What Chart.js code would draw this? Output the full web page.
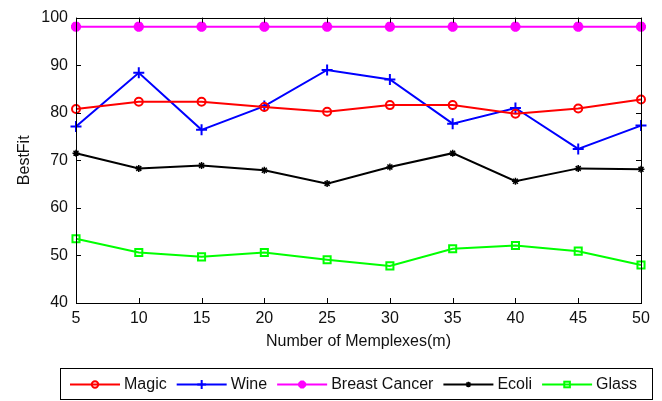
<!DOCTYPE html>
<html>
<head>
<meta charset="utf-8">
<script src="https://cdn.jsdelivr.net/npm/chart.js@4/dist/chart.umd.min.js"></script>
<style>
  html, body { margin: 0; padding: 0; background: #fff; }
  #wrap { width: 662px; height: 401px; }
</style>
</head>
<body>
<div id="wrap"><canvas id="line_chart" width="662" height="401"></canvas></div>
<script>
// number of memplexes on the x axis
const memplexes = ['5', '10', '15', '20', '25', '30', '35', '40', '45', '50'];

// BestFit values
const magic        = [80.8, 82.3, 82.3, 81.2, 80.2, 81.6, 81.6, 79.8, 80.9, 82.8];
const wine         = [77.1, 88.4, 76.4, 81.4, 89.0, 87.0, 77.7, 81.0, 72.4, 77.3];
const breastCancer = [98.1, 98.1, 98.1, 98.1, 98.1, 98.1, 98.1, 98.1, 98.1, 98.1];
const ecoli        = [71.5, 68.3, 68.9, 67.9, 65.1, 68.6, 71.5, 65.6, 68.3, 68.1];
const glass        = [53.5, 50.6, 49.7, 50.6, 49.1, 47.8, 51.4, 52.1, 50.9, 48.0];

const yTicks = [40, 50, 60, 70, 80, 90, 100];

const FONT = 'Liberation Sans, Arial, sans-serif';

function series(label, data, color, style, radius, bw) {
    return {
        label: label,
        data: data,
        borderColor: color,
        backgroundColor: color,
        borderWidth: 2,
        pointStyle: style,
        pointRadius: radius,
        pointBorderWidth: bw,
        pointBackgroundColor: (style === 'circle' || style === 'rect') ? 'rgba(0,0,0,0)' : color,
        pointBorderColor: color,
        tension: 0,
    };
}

// box round the plot area with inward tick marks, MATLAB style
const boxPlugin = {
    id: 'box',
    afterDatasetsDraw(chart) {
        const ctx = chart.ctx;
        const a = chart.chartArea;
        const xs = chart.scales.x, ys = chart.scales.y;
        ctx.save();
        ctx.strokeStyle = '#000';
        ctx.lineWidth = 1;
        ctx.strokeRect(Math.round(a.left) + 0.5, Math.round(a.top) + 0.5,
            Math.round(a.right - a.left), Math.round(a.bottom - a.top));
        ctx.beginPath();
        xs.ticks.forEach((t, i) => {
            const px = Math.round(xs.getPixelForTick(i)) + 0.5;
            ctx.moveTo(px, a.bottom); ctx.lineTo(px, a.bottom - 5);
            ctx.moveTo(px, a.top); ctx.lineTo(px, a.top + 5);
        });
        ys.ticks.forEach((t, i) => {
            const py = Math.round(ys.getPixelForTick(i)) + 0.5;
            ctx.moveTo(a.left, py); ctx.lineTo(a.left + 5, py);
            ctx.moveTo(a.right, py); ctx.lineTo(a.right - 5, py);
        });
        ctx.stroke();
        ctx.restore();
    }
};

function drawMarker(ctx, style, x, y, r, color) {
    ctx.strokeStyle = color;
    ctx.fillStyle = color;
    ctx.beginPath();
    if (style === 'circle') {
        ctx.arc(x, y, r, 0, Math.PI * 2);
        ctx.stroke();
    } else if (style === 'rect') {
        ctx.strokeRect(x - r * 0.7, y - r * 0.7, r * 1.4, r * 1.4);
    } else if (style === 'cross') {
        ctx.moveTo(x - r, y); ctx.lineTo(x + r, y);
        ctx.moveTo(x, y - r); ctx.lineTo(x, y + r);
        ctx.stroke();
    } else if (style === 'star') {
        ctx.moveTo(x - r, y); ctx.lineTo(x + r, y);
        ctx.moveTo(x, y - r); ctx.lineTo(x, y + r);
        const d = r * 0.7;
        ctx.moveTo(x - d, y - d); ctx.lineTo(x + d, y + d);
        ctx.moveTo(x - d, y + d); ctx.lineTo(x + d, y - d);
        ctx.stroke();
    }
}

// boxed legend under the axes, one line segment with marker per series
const legendPlugin = {
    id: 'boxLegend',
    afterDraw(chart) {
        const ctx = chart.ctx;
        ctx.save();
        ctx.strokeStyle = '#000';
        ctx.lineWidth = 1;
        ctx.strokeRect(60.5, 368.5, 592, 31);
        ctx.font = '16px ' + FONT;
        ctx.textBaseline = 'middle';
        ctx.textAlign = 'left';
        let x = 70;
        const y = 384.5;
        chart.data.datasets.forEach(ds => {
            ctx.lineWidth = 2;
            ctx.strokeStyle = ds.borderColor;
            ctx.beginPath();
            ctx.moveTo(x, y); ctx.lineTo(x + 50, y);
            ctx.stroke();
            ctx.lineWidth = ds.pointBorderWidth;
            drawMarker(ctx, ds.pointStyle, x + 25, y, ds.pointRadius * 0.8, ds.borderColor);
            ctx.fillStyle = '#111';
            ctx.fillText(ds.label, x + 54, y);
            x += 54 + ctx.measureText(ds.label).width + 10;
        });
        ctx.restore();
    }
};

const ctx = document.getElementById('line_chart').getContext('2d');
const myChart = new Chart(ctx, {
    type: 'line',
    data: {
        labels: memplexes,
        datasets: [
            series('Magic', magic, '#ff0000', 'circle', 4, 2),
            series('Wine', wine, '#0000ff', 'cross', 5.5, 2),
            series('Breast Cancer', breastCancer, '#ff00ff', 'star', 5, 3.5),
            series('Ecoli', ecoli, '#000000', 'star', 3.5, 1.5),
            series('Glass', glass, '#00ff00', 'rect', 5, 2),
        ]
    },
    options: {
        responsive: false,
        animation: false,
        layout: { padding: { left: 0, top: 15, right: 21, bottom: 48 } },
        plugins: {
            legend: { display: false },
            tooltip: { enabled: false },
        },
        scales: {
            x: {
                type: 'category',
                offset: false,
                grid: { display: false, drawTicks: false },
                border: { display: false },
                ticks: { color: '#111', padding: 6, maxRotation: 0, font: { family: FONT, size: 16 } },
                title: { display: true, text: 'Number of Memplexes(m)', color: '#111',
                         padding: { top: 0, bottom: 2 }, font: { family: FONT, size: 16 } },
                afterFit(scale) { scale.height = 50; },
            },
            y: {
                min: 40,
                max: 100,
                afterBuildTicks(scale) { scale.ticks = yTicks.map(v => ({ value: v })); },
                grid: { display: false, drawTicks: false },
                border: { display: false },
                ticks: { color: '#111', padding: 8, font: { family: FONT, size: 16 } },
                title: { display: true, text: 'BestFit', color: '#111',
                         padding: { top: 15, bottom: 0 }, font: { family: FONT, size: 16 } },
                afterFit(scale) { scale.width = 76; },
            }
        }
    },
    plugins: [boxPlugin, legendPlugin]
});
</script>
</body>
</html>
